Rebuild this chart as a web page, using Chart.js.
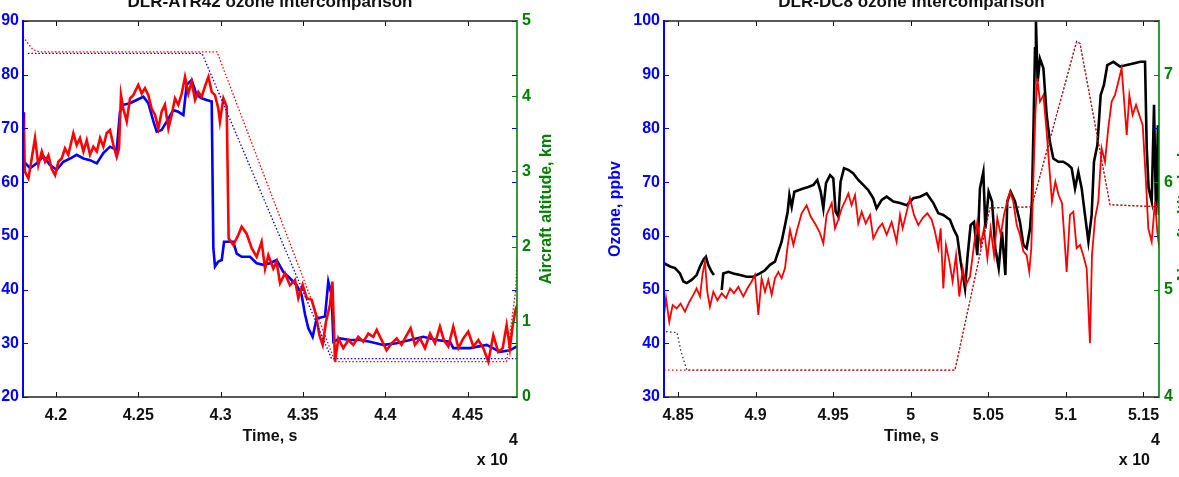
<!DOCTYPE html>
<html><head><meta charset="utf-8">
<script src="https://cdn.jsdelivr.net/npm/chart.js@4.4.1/dist/chart.umd.min.js"></script>
<style>
html,body{margin:0;padding:0;background:#fff;overflow:hidden;width:1179px;height:477px;position:relative;}
#c1{position:absolute;left:0;top:0;}
#c2{position:absolute;left:590px;top:0;}
</style></head><body>
<canvas id="c1" width="590" height="477"></canvas>
<canvas id="c2" width="600" height="477"></canvas>
<script>
// ---------------- DATA: left panel (DLR-ATR42) ----------------
const atrTitle = 'DLR-ATR42 ozone intercomparison';
const atrXTicks = [4.2, 4.25, 4.3, 4.35, 4.4, 4.45];
const atrXLabels = ['4.2', '4.25', '4.3', '4.35', '4.4', '4.45'];
const atrYTicks = [20, 30, 40, 50, 60, 70, 80, 90];
const atrY2Ticks = [0, 1, 2, 3, 4, 5];
// ozone (ppbv) vs time (x10^4 s), blue instrument
const atrBlue = [[4.1800,73.0],[4.1806,63.8],[4.1843,62.6],[4.1883,63.5],[4.1924,64.8],[4.1964,63.2],[4.2005,62.3],[4.2045,63.8],[4.2086,64.4],[4.2126,65.1],[4.2167,64.4],[4.2207,64.1],[4.2248,63.5],[4.2288,65.4],[4.2328,66.6],[4.2369,66.0],[4.2389,73.1],[4.2409,74.4],[4.2450,74.7],[4.2490,75.3],[4.2531,75.9],[4.2561,74.7],[4.2592,71.3],[4.2612,69.4],[4.2642,69.7],[4.2673,71.3],[4.2713,73.4],[4.2743,73.1],[4.2774,72.5],[4.2794,78.1],[4.2824,79.0],[4.2855,76.2],[4.2885,75.6],[4.2915,75.3],[4.2946,75.0],[4.2956,47.7],[4.2966,44.3],[4.2986,45.2],[4.3007,45.5],[4.3021,48.9],[4.3077,48.9],[4.3098,46.7],[4.3128,46.1],[4.3179,46.1],[4.3219,44.9],[4.3260,44.6],[4.3300,44.9],[4.3340,45.5],[4.3381,43.3],[4.3421,42.1],[4.3462,40.8],[4.3492,39.0],[4.3513,35.3],[4.3533,32.8],[4.3559,31.2],[4.3583,34.6],[4.3634,35.0],[4.3654,41.5],[4.3674,39.0],[4.3685,30.3],[4.3725,30.9],[4.3786,30.6],[4.3846,30.6],[4.3907,30.3],[4.3988,29.7],[4.4069,30.0],[4.4150,30.6],[4.4231,31.2],[4.4312,30.6],[4.4393,30.3],[4.4413,29.1],[4.4514,29.1],[4.4616,29.7],[4.4697,28.4],[4.4757,28.7],[4.4798,29.4]];
// ozone, red instrument
const atrRed = [[4.1800,73.0],[4.1812,61.9],[4.1833,60.7],[4.1853,64.4],[4.1873,68.2],[4.1893,63.2],[4.1914,65.7],[4.1934,63.8],[4.1954,65.0],[4.1974,62.5],[4.1995,61.3],[4.2015,63.8],[4.2035,64.4],[4.2055,66.3],[4.2075,65.1],[4.2106,69.1],[4.2126,66.9],[4.2146,68.2],[4.2167,65.7],[4.2187,67.8],[4.2207,65.1],[4.2227,66.6],[4.2248,65.7],[4.2268,68.2],[4.2288,66.6],[4.2308,69.1],[4.2328,69.7],[4.2349,66.9],[4.2369,64.7],[4.2383,66.3],[4.2395,76.2],[4.2409,73.7],[4.2430,71.3],[4.2450,75.6],[4.2470,76.2],[4.2500,78.1],[4.2521,76.5],[4.2541,77.5],[4.2561,76.2],[4.2581,73.7],[4.2602,72.5],[4.2622,70.0],[4.2642,73.1],[4.2662,74.4],[4.2683,70.0],[4.2703,72.5],[4.2723,75.6],[4.2743,74.4],[4.2764,76.5],[4.2784,79.6],[4.2804,76.5],[4.2824,78.7],[4.2845,75.3],[4.2865,76.8],[4.2885,75.9],[4.2905,77.8],[4.2926,79.6],[4.2946,76.8],[4.2966,76.2],[4.2986,73.7],[4.2996,71.3],[4.3017,75.6],[4.3037,74.1],[4.3049,49.5],[4.3077,48.3],[4.3108,50.2],[4.3128,51.7],[4.3158,50.4],[4.3189,47.7],[4.3219,46.1],[4.3249,48.9],[4.3270,43.9],[4.3290,46.4],[4.3320,43.9],[4.3340,45.2],[4.3361,41.2],[4.3391,43.0],[4.3421,40.8],[4.3452,41.8],[4.3472,38.4],[4.3498,40.9],[4.3523,38.4],[4.3553,38.1],[4.3579,35.3],[4.3600,31.5],[4.3620,29.7],[4.3640,34.0],[4.3664,37.1],[4.3679,41.5],[4.3695,26.6],[4.3715,30.9],[4.3745,29.1],[4.3776,30.6],[4.3806,29.7],[4.3836,31.2],[4.3867,30.3],[4.3897,31.8],[4.3927,31.2],[4.3948,32.5],[4.3978,30.6],[4.4008,28.7],[4.4039,30.0],[4.4069,30.9],[4.4099,29.7],[4.4130,31.5],[4.4154,32.8],[4.4180,29.7],[4.4211,30.9],[4.4241,29.1],[4.4272,31.8],[4.4302,30.0],[4.4332,33.1],[4.4356,30.6],[4.4383,29.4],[4.4413,33.1],[4.4444,29.1],[4.4474,30.9],[4.4504,32.2],[4.4535,29.4],[4.4565,30.6],[4.4595,29.1],[4.4626,26.6],[4.4656,31.5],[4.4686,28.4],[4.4713,29.1],[4.4737,33.4],[4.4757,29.1],[4.4773,33.1],[4.4793,36.5],[4.4803,37.1]];
// aircraft altitude (km)
const atrAltBlue = [[4.1830,4.57],[4.2887,4.57],[4.3674,0.51],[4.4800,0.51]];
const atrAltRed = [[4.1800,4.79],[4.1860,4.62],[4.1900,4.59],[4.2978,4.59],[4.3695,0.47],[4.4737,0.47],[4.4767,1.00],[4.4793,1.44],[4.4800,1.85]];

// ---------------- DATA: right panel (DLR-DC8) ----------------
const dcTitle = 'DLR-DC8 ozone intercomparison';
const dcXTicks = [4.85, 4.9, 4.95, 5, 5.05, 5.1, 5.15];
const dcXLabels = ['4.85', '4.9', '4.95', '5', '5.05', '5.1', '5.15'];
const dcYTicks = [30, 40, 50, 60, 70, 80, 90, 100];
const dcY2Ticks = [4, 5, 6, 7];
const dcBlack = [[4.8410,54.9],[4.8449,54.3],[4.8481,54.0],[4.8513,53.0],[4.8535,51.5],[4.8556,51.2],[4.8588,51.8],[4.8620,52.7],[4.8642,54.3],[4.8663,55.5],[4.8680,56.1],[4.8695,54.6],[4.8717,53.3],[4.8732,52.7],[4.8750,null],[4.8782,49.9],[4.8792,53.0],[4.8825,53.3],[4.8857,53.0],[4.8900,52.7],[4.8943,52.4],[4.8985,52.4],[4.9028,53.0],[4.9061,53.6],[4.9093,54.6],[4.9125,55.2],[4.9147,57.1],[4.9168,58.9],[4.9190,62.0],[4.9207,64.5],[4.9218,67.6],[4.9233,65.4],[4.9250,68.2],[4.9276,68.5],[4.9308,68.8],[4.9340,69.1],[4.9373,69.5],[4.9398,70.4],[4.9420,68.2],[4.9437,65.1],[4.9454,69.8],[4.9480,71.3],[4.9501,70.7],[4.9516,64.5],[4.9533,63.6],[4.9548,70.1],[4.9570,72.6],[4.9598,72.3],[4.9630,71.6],[4.9662,70.4],[4.9694,69.5],[4.9727,68.5],[4.9759,67.0],[4.9780,65.1],[4.9813,66.7],[4.9845,67.3],[4.9888,66.4],[4.9931,66.1],[4.9974,65.7],[5.0017,67.0],[5.0060,67.3],[5.0103,67.9],[5.0146,66.1],[5.0178,64.2],[5.0210,63.9],[5.0253,63.0],[5.0279,61.1],[5.0300,59.9],[5.0322,55.2],[5.0350,50.2],[5.0365,55.8],[5.0386,62.0],[5.0408,62.6],[5.0429,56.4],[5.0446,68.8],[5.0468,71.9],[5.0481,61.4],[5.0502,68.2],[5.0524,66.4],[5.0545,57.7],[5.0567,54.0],[5.0588,60.8],[5.0610,52.7],[5.0622,66.4],[5.0644,68.2],[5.0672,66.4],[5.0704,62.6],[5.0726,58.3],[5.0747,57.7],[5.0769,61.4],[5.0781,66.4],[5.0792,81.3],[5.0801,94.9],[5.0807,99.9],[5.0818,88.7],[5.0833,93.0],[5.0855,91.2],[5.0876,82.5],[5.0897,77.5],[5.0919,74.4],[5.0951,73.8],[5.0983,73.8],[5.1016,73.2],[5.1037,72.6],[5.1059,68.8],[5.1080,71.9],[5.1102,68.8],[5.1123,63.9],[5.1145,58.9],[5.1166,63.9],[5.1181,73.8],[5.1203,76.9],[5.1224,86.2],[5.1245,88.1],[5.1267,91.8],[5.1306,92.4],[5.1349,91.5],[5.1392,91.8],[5.1435,92.1],[5.1478,92.4],[5.1510,92.4],[5.1521,76.3],[5.1533,68.9],[5.1553,66.4],[5.1568,84.4],[5.1581,63.9],[5.1593,80.6],[5.1602,63.9]];
const dcRed = [[4.8410,45.3],[4.8423,48.4],[4.8444,44.0],[4.8466,47.1],[4.8492,46.5],[4.8517,47.4],[4.8545,45.9],[4.8573,47.7],[4.8599,49.0],[4.8620,50.2],[4.8642,48.7],[4.8659,53.0],[4.8674,55.2],[4.8689,49.6],[4.8706,46.8],[4.8728,49.6],[4.8754,48.0],[4.8782,49.3],[4.8810,48.4],[4.8836,50.2],[4.8861,49.3],[4.8889,50.5],[4.8921,48.7],[4.8947,50.2],[4.8975,51.5],[4.8996,52.7],[4.9018,45.3],[4.9039,52.1],[4.9061,49.6],[4.9082,51.8],[4.9104,49.0],[4.9125,52.1],[4.9147,53.3],[4.9168,52.1],[4.9190,54.0],[4.9205,57.7],[4.9222,61.1],[4.9244,58.3],[4.9265,60.8],[4.9297,64.2],[4.9329,65.7],[4.9355,63.6],[4.9383,62.3],[4.9411,60.8],[4.9437,58.6],[4.9458,63.9],[4.9491,66.1],[4.9512,61.4],[4.9533,63.0],[4.9555,65.1],[4.9576,66.4],[4.9598,67.9],[4.9619,65.7],[4.9641,67.6],[4.9662,62.3],[4.9684,64.5],[4.9710,62.3],[4.9738,63.9],[4.9759,59.5],[4.9791,61.4],[4.9817,62.3],[4.9845,60.2],[4.9877,62.6],[4.9909,58.9],[4.9931,63.9],[4.9948,61.4],[4.9969,63.9],[4.9995,67.0],[5.0021,63.9],[5.0049,62.0],[5.0077,63.3],[5.0107,64.2],[5.0135,63.0],[5.0156,60.8],[5.0178,57.7],[5.0193,61.4],[5.0210,50.2],[5.0227,58.3],[5.0249,55.2],[5.0270,51.5],[5.0292,56.4],[5.0313,48.7],[5.0335,53.9],[5.0356,50.9],[5.0382,52.4],[5.0408,58.3],[5.0429,62.6],[5.0451,58.3],[5.0472,61.4],[5.0494,55.8],[5.0515,61.4],[5.0537,56.4],[5.0558,63.3],[5.0580,60.2],[5.0601,63.9],[5.0622,66.4],[5.0640,68.2],[5.0661,66.4],[5.0683,62.0],[5.0704,60.2],[5.0726,57.1],[5.0747,56.4],[5.0764,53.3],[5.0777,57.7],[5.0790,70.1],[5.0803,82.5],[5.0816,89.3],[5.0833,85.0],[5.0855,86.2],[5.0876,79.4],[5.0897,71.3],[5.0910,66.4],[5.0932,70.1],[5.0953,67.6],[5.0975,66.1],[5.0992,58.9],[5.1005,53.3],[5.1026,63.9],[5.1048,64.5],[5.1069,57.7],[5.1091,58.3],[5.1112,56.4],[5.1134,53.9],[5.1155,40.0],[5.1168,56.4],[5.1188,63.3],[5.1209,66.4],[5.1230,76.3],[5.1252,73.8],[5.1273,80.0],[5.1295,85.0],[5.1316,86.2],[5.1338,88.7],[5.1359,91.2],[5.1374,85.6],[5.1392,78.8],[5.1409,86.2],[5.1430,82.5],[5.1452,84.4],[5.1473,82.5],[5.1495,80.6],[5.1516,70.1],[5.1531,61.4],[5.1553,58.9],[5.1574,66.4],[5.1589,60.8],[5.1602,57.7]];
const dcAltBlack = [[4.8410,4.61],[4.8494,4.60],[4.8520,4.42],[4.8558,4.25],[5.0285,4.25],[5.0511,5.76],[5.0779,5.77],[5.1069,7.31],[5.1091,7.29],[5.1284,5.79],[5.1602,5.77]];
const dcAltRed = [[4.8410,4.25],[5.0285,4.25],[5.0511,5.76],[5.0779,5.77],[5.1069,7.31],[5.1091,7.29],[5.1284,5.79],[5.1602,5.77]];

// ---------------- styling ----------------
const FONT = 'Liberation Sans, Arial, Helvetica, sans-serif';
const BLUE = '#0000ff', RED = '#ff0000', GREEN = '#008000', BLACK = '#000000';
Chart.defaults.font.family = FONT;

const toXY = arr => arr.map(p => ({x: p[0], y: p[1]}));

const boxPlugin = {
  id: 'matlabBox',
  afterDraw(chart, args, o) {
    const {ctx, chartArea: a, scales} = chart;
    const TL = 5;
    const seg = (x1, y1, x2, y2) => { ctx.beginPath(); ctx.moveTo(x1, y1); ctx.lineTo(x2, y2); ctx.stroke(); };
    ctx.save();
    ctx.lineWidth = 1;
    ctx.strokeStyle = '#111';
    for (const t of scales.x.ticks) {
      const px = Math.round(scales.x.getPixelForValue(t.value)) + 0.5;
      seg(px, a.bottom, px, a.bottom - TL);
      seg(px, a.top, px, a.top + TL);
    }
    ctx.strokeStyle = BLUE;
    for (const t of scales.y.ticks) {
      const py = Math.round(scales.y.getPixelForValue(t.value)) + 0.5;
      seg(a.left, py, a.left + TL, py);
      seg(a.right, py, a.right - TL, py);
    }
    ctx.strokeStyle = GREEN;
    for (const t of scales.y2.ticks) {
      const py = Math.round(scales.y2.getPixelForValue(t.value)) + 0.5;
      seg(a.right, py, a.right - TL, py);
    }
    // box
    ctx.lineWidth = 1.5; ctx.strokeStyle = '#222';
    seg(a.left, a.top, a.right, a.top);
    seg(a.left, a.bottom, a.right, a.bottom);
    ctx.lineWidth = 2; ctx.strokeStyle = BLUE;
    seg(a.left, a.top - 1, a.left, a.bottom + 1);
    ctx.lineWidth = 1.6; ctx.strokeStyle = GREEN;
    seg(a.right, a.top - 1, a.right, a.bottom + 1);
    // texts
    const cx = (a.left + a.right) / 2;
    ctx.fillStyle = '#111';
    ctx.textAlign = 'center'; ctx.textBaseline = 'alphabetic';
    ctx.font = 'bold 17px ' + FONT;
    ctx.fillText(o.title, cx, 7);
    ctx.font = 'bold 16px ' + FONT;
    ctx.fillText('Time, s', cx, 441);
    ctx.textAlign = 'right';
    ctx.fillText('4', a.right + 1, 445);
    ctx.fillText('x 10', a.right - 9, 465);
    const vtext = (txt, x, color) => {
      ctx.save();
      ctx.fillStyle = color;
      ctx.translate(x, (a.top + a.bottom) / 2);
      ctx.rotate(-Math.PI / 2);
      ctx.textAlign = 'center'; ctx.textBaseline = 'middle';
      ctx.font = 'bold 16px ' + FONT;
      ctx.fillText(txt, 0, 0);
      ctx.restore();
    };
    if (o.leftTitle) vtext(o.leftTitle, o.leftTitleX, BLUE);
    if (o.rightTitle) vtext(o.rightTitle, o.rightTitleX, GREEN);
    ctx.restore();
  }
};

function makeChart(el, c) {
  return new Chart(el, {
    type: 'line',
    data: { datasets: c.datasets },
    options: {
      responsive: false, animation: false, devicePixelRatio: 1,
      layout: { padding: { top: 21, left: 0, right: 0, bottom: 0 } },
      plugins: { legend: {display: false}, tooltip: {enabled: false}, title: {display: false}, matlabBox: c.box },
      elements: { point: { radius: 0 }, line: { tension: 0 } },
      scales: {
        x: {
          type: 'linear', position: 'bottom', min: c.xMin, max: c.xMax,
          grid: {display: false, drawTicks: false}, border: {display: false},
          afterBuildTicks: s => { s.ticks = c.xTicks.map(v => ({value: v})); },
          afterFit: s => { s.height = 80; },
          ticks: { autoSkip: false, maxRotation: 0, minRotation: 0, padding: 9, color: '#111',
                   font: {family: FONT, size: 16, weight: 'bold'}, callback: (v, i) => c.xLabels[i] }
        },
        y: {
          type: 'linear', position: 'left', min: c.yMin, max: c.yMax,
          grid: {display: false, drawTicks: false}, border: {display: false},
          afterBuildTicks: s => { s.ticks = c.yTicks.map(v => ({value: v})); },
          afterFit: s => { s.width = c.leftW; },
          ticks: { autoSkip: false, padding: 4, color: BLUE, font: {family: FONT, size: 16, weight: 'bold'},
                   callback: v => String(v) }
        },
        y2: {
          type: 'linear', position: 'right', min: c.y2Min, max: c.y2Max,
          grid: {display: false, drawTicks: false}, border: {display: false},
          afterBuildTicks: s => { s.ticks = c.y2Ticks.map(v => ({value: v})); },
          afterFit: s => { s.width = c.rightW; },
          ticks: { autoSkip: false, padding: 5, color: GREEN, font: {family: FONT, size: 16, weight: 'bold'},
                   callback: v => String(v) }
        }
      }
    },
    plugins: [boxPlugin]
  });
}

makeChart(document.getElementById('c1'), {
  xMin: 4.18, xMax: 4.48, yMin: 20, yMax: 90, y2Min: 0, y2Max: 5,
  xTicks: atrXTicks, xLabels: atrXLabels, yTicks: atrYTicks, y2Ticks: atrY2Ticks,
  leftW: 23, rightW: 73,
  box: { title: atrTitle, rightTitle: 'Aircraft altitude, km', rightTitleX: 547 },
  datasets: [
    { data: toXY(atrAltRed), yAxisID: 'y2', borderColor: RED, borderWidth: 1.3, borderDash: [1.5, 2], order: 0 },
    { data: toXY(atrAltBlue), yAxisID: 'y2', borderColor: BLUE, borderWidth: 1.3, borderDash: [1.5, 2], order: 0 },
    { data: toXY(atrRed), yAxisID: 'y', borderColor: RED, borderWidth: 2.6, order: 1 },
    { data: toXY(atrBlue), yAxisID: 'y', borderColor: BLUE, borderWidth: 2.6, order: 2 }
  ]
});

makeChart(document.getElementById('c2'), {
  xMin: 4.841, xMax: 5.160, yMin: 30, yMax: 100, y2Min: 4, y2Max: 7.5,
  xTicks: dcXTicks, xLabels: dcXLabels, yTicks: dcYTicks, y2Ticks: dcY2Ticks,
  leftW: 74, rightW: 31,
  box: { title: dcTitle, leftTitle: 'Ozone, ppbv', leftTitleX: 26, rightTitle: 'Aircraft altitude, km', rightTitleX: 595 },
  datasets: [
    { data: toXY(dcAltRed), yAxisID: 'y2', borderColor: RED, borderWidth: 1.3, borderDash: [1.5, 2.5], order: 0 },
    { data: toXY(dcAltBlack), yAxisID: 'y2', borderColor: '#333', borderWidth: 1.3, borderDash: [1.5, 2.5], borderDashOffset: 2, order: 0 },
    { data: toXY(dcRed), yAxisID: 'y', borderColor: RED, borderWidth: 1.8, order: 1 },
    { data: toXY(dcBlack), yAxisID: 'y', borderColor: BLACK, borderWidth: 2.6, order: 2 }
  ]
});
</script>
</body></html>
